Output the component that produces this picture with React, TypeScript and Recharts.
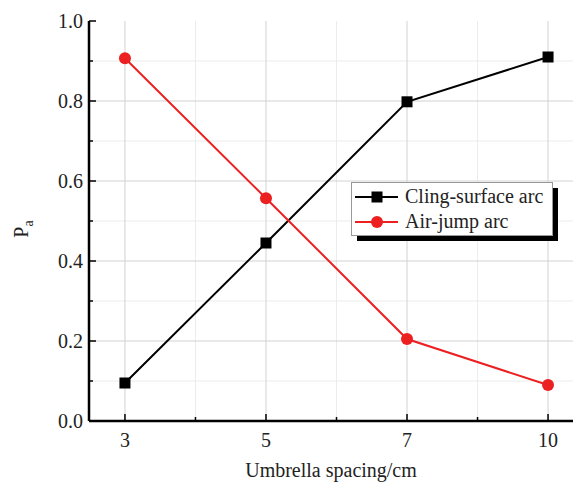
import { LineChart, Line, XAxis, YAxis, CartesianGrid } from 'recharts';

const spacing = ['3', '5', '7', '10'];
const clingSurface = [0.095, 0.445, 0.798, 0.91];
const airJump = [0.907, 0.557, 0.205, 0.09];

const xTicks = [0, 0.5, 1, 1.5, 2, 2.5, 3];
const yTicks = [0, 0.1, 0.2, 0.3, 0.4, 0.5, 0.6, 0.7, 0.8, 0.9, 1.0];

const data = spacing.map((s, i) => ({ idx: i, label: s, cling: clingSurface[i], air: airJump[i] }));

const FONT = 'Liberation Serif, Times New Roman, serif';
const RED = '#ec2020';

const XTickBottom = (props: any) => {
    const { x, y, payload } = props;
    const v = payload.value;
    const major = Number.isInteger(v);
    return (
        <g>
            <line x1={x} x2={x} y1={y} y2={y - (major ? 7 : 4)} stroke="#000" strokeWidth={1.5} />
            {major && (
                <text x={x} y={y + 26} textAnchor="middle" style={{ fontFamily: FONT }} fontSize={20} fill="#222">
                    {spacing[v]}
                </text>
            )}
        </g>
    );
};

const XTickTop = (props: any) => {
    const { x, y, payload } = props;
    const major = Number.isInteger(payload.value);
    return <line x1={x} x2={x} y1={y} y2={y + (major ? 7 : 4)} stroke="#000" strokeWidth={1.5} />;
};

const YTickLeft = (props: any) => {
    const { x, y, payload } = props;
    const v = Math.round(payload.value * 10);
    const major = v % 2 === 0;
    return (
        <g>
            <line x1={x} x2={x + (major ? 7 : 4)} y1={y} y2={y} stroke="#000" strokeWidth={1.5} />
            {major && (
                <text x={x - 6} y={y + 7} textAnchor="end" style={{ fontFamily: FONT }} fontSize={20} fill="#222">
                    {(v / 10).toFixed(1)}
                </text>
            )}
        </g>
    );
};

const SquareDot = (props: any) => {
    const { cx, cy, index } = props;
    return <rect key={`sq-${index}`} x={cx - 5.5} y={cy - 5.5} width={11} height={11} fill="#000" />;
};

const CircleDot = (props: any) => {
    const { cx, cy, index } = props;
    return <circle key={`ci-${index}`} cx={cx} cy={cy} r={6} fill={RED} />;
};

const LegendBox = () => (
    <svg width={212} height={62} style={{ position: 'absolute', left: 351, top: 182 }}>
        <rect x={6} y={6} width={201} height={53} fill="#000" />
        <rect x={0.5} y={0.5} width={201} height={53} fill="#fff" stroke="#999" strokeWidth={1} />
        <line x1={4} x2={47} y1={15} y2={15} stroke="#000" strokeWidth={2} />
        <rect x={20.5} y={9.5} width={11} height={11} fill="#000" />
        <text x={54} y={21} style={{ fontFamily: FONT }} fontSize={20} fill="#222">Cling-surface arc</text>
        <line x1={4} x2={47} y1={40} y2={40} stroke={RED} strokeWidth={2} />
        <circle cx={26} cy={40} r={6} fill={RED} />
        <text x={54} y={46} style={{ fontFamily: FONT }} fontSize={20} fill="#222">Air-jump arc</text>
    </svg>
);

export default function App() {
    return (
        <div style={{ position: 'absolute', left: 0, top: 0, width: 574, height: 485, background: '#fff' }}>
            <LineChart width={574} height={485} data={data} margin={{ top: 21, right: 1, left: 0, bottom: 0 }}>
                <CartesianGrid
                    xAxisId="bottom"
                    stroke="#ececec"
                    horizontalValues={[0.1, 0.3, 0.5, 0.7, 0.9]}
                    verticalValues={[0.5, 1.5, 2.5]}
                />
                <CartesianGrid
                    xAxisId="bottom"
                    stroke="#d2d2d2"
                    horizontalValues={[0.2, 0.4, 0.6, 0.8]}
                    verticalValues={[0, 1, 2, 3]}
                />
                <XAxis
                    xAxisId="bottom"
                    dataKey="idx"
                    type="number"
                    domain={[-0.255, 3.177]}
                    ticks={xTicks}
                    interval={0}
                    height={64}
                    tickSize={0}
                    tickMargin={0}
                    tickLine={false}
                    tick={<XTickBottom />}
                    axisLine={{ stroke: '#000', strokeWidth: 2.5 }}
                    label={{ value: 'Umbrella spacing/cm', position: 'insideBottom', offset: 8, style: { fontFamily: FONT }, fontSize: 20, fill: '#222' }}
                />
                <XAxis
                    xAxisId="top"
                    orientation="top"
                    dataKey="idx"
                    type="number"
                    domain={[-0.255, 3.177]}
                    ticks={xTicks}
                    interval={0}
                    height={0}
                    tickSize={0}
                    tickMargin={0}
                    tickLine={false}
                    tick={<XTickTop />}
                    axisLine={{ stroke: '#000', strokeWidth: 2.5 }}
                />
                <YAxis
                    type="number"
                    domain={[0, 1]}
                    ticks={yTicks}
                    interval={0}
                    width={89}
                    tickSize={0}
                    tickMargin={0}
                    tickLine={false}
                    tick={<YTickLeft />}
                    axisLine={{ stroke: '#000', strokeWidth: 2.5 }}
                    label={({ viewBox }: any) => (
                        <text
                            transform={`translate(${viewBox.x + 28}, ${viewBox.y + viewBox.height / 2 + 8}) rotate(-90)`}
                            style={{ fontFamily: FONT }}
                            fontSize={20}
                            fill="#222"
                            textAnchor="middle"
                        >
                            P<tspan fontSize={14} dy={5}>a</tspan>
                        </text>
                    )}
                />
                <Line
                    xAxisId="bottom"
                    dataKey="cling"
                    name="Cling-surface arc"
                    stroke="#000"
                    strokeWidth={2}
                    dot={<SquareDot />}
                    isAnimationActive={false}
                />
                <Line
                    xAxisId="bottom"
                    dataKey="air"
                    name="Air-jump arc"
                    stroke={RED}
                    strokeWidth={2}
                    dot={<CircleDot />}
                    isAnimationActive={false}
                />
            </LineChart>
            <LegendBox />
        </div>
    );
}
